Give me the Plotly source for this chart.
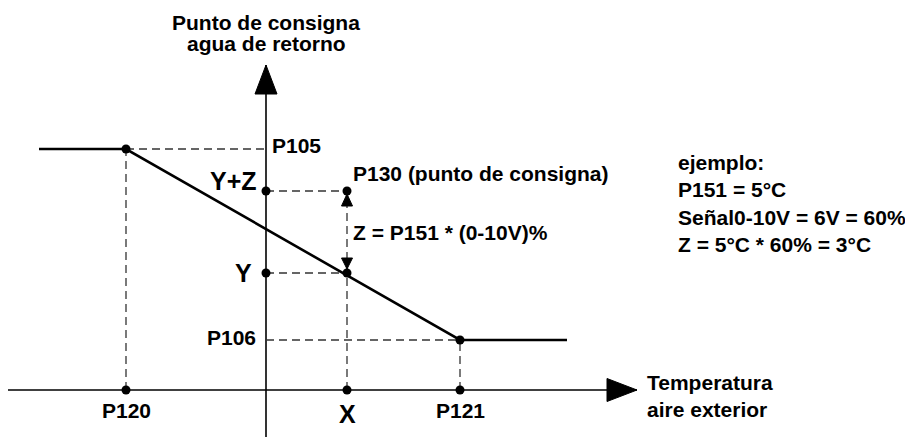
import plotly.graph_objects as go

# diagram values (arbitrary units, origin where the two axes cross)
x_p120 = -7.0
x_x = 4.05
x_p121 = 9.7
x_left_end = -11.35
x_right_end = 15.05

y_p105 = 12.05
y_p106 = 2.5
y_y = 5.85
y_yz = 9.95

x_axis_span = [-12.9, 18.55]
y_axis_span = [-2.35, 16.25]

title_lines = ["Punto de consigna", "agua de retorno"]
xaxis_lines = "Temperatura<br>aire exterior"
example_text = ("ejemplo:<br>P151 = 5°C<br>Señal0-10V = 6V = 60%<br>"
                "Z = 5°C * 60% = 3°C")

U = 20.0  # pixels per unit
# origin position inside the figure (page body has an 8px margin)
OX, OY = 266 - 8, 390 - 8
FONT = "Liberation Sans, Arial, sans-serif"


def tri(tx, ty, direction, length, half):
    l, h = length / U, half / U
    if direction == "up":
        return [tx, tx - h, tx + h, tx], [ty, ty - l, ty - l, ty]
    if direction == "down":
        return [tx, tx - h, tx + h, tx], [ty, ty + l, ty + l, ty]
    return [tx, tx - l, tx - l, tx], [ty, ty - h, ty + h, ty]


fig = go.Figure()

# axes
fig.add_trace(go.Scatter(x=x_axis_span, y=[0, 0], mode="lines",
                         line=dict(color="black", width=1.6)))
fig.add_trace(go.Scatter(x=[0, 0], y=y_axis_span, mode="lines",
                         line=dict(color="black", width=1.6)))

# dashed guide lines
dx = [x_p120, 0, None, x_p120, x_p120, None,
      0, x_x, None, 0, x_x, None, x_x, x_x, None,
      0, x_p121, None, x_p121, x_p121]
dy = [y_p105, y_p105, None, 0, y_p105, None,
      y_yz, y_yz, None, y_y, y_y, None, 0, y_yz, None,
      y_p106, y_p106, None, 0, y_p106]
fig.add_trace(go.Scatter(x=dx, y=dy, mode="lines",
                         line=dict(color="#333333", width=1.3, dash="8px,5px")))

# set point curve
fig.add_trace(go.Scatter(x=[x_left_end, x_p120, x_p121, x_right_end],
                         y=[y_p105, y_p105, y_p106, y_p106], mode="lines",
                         line=dict(color="black", width=2.6)))

# arrow heads
heads = [
    tri(0, y_axis_span[1], "up", 29, 11),
    tri(x_axis_span[1], 0, "right", 30, 11.5),
    tri(x_x, y_yz - 3 / U, "up", 12, 5.5),
    tri(x_x, y_y + 4 / U, "down", 11, 5.5),
]
for hx, hy in heads:
    fig.add_trace(go.Scatter(x=hx, y=hy, mode="lines", fill="toself",
                             fillcolor="black", line=dict(color="black", width=1)))

# dots
fig.add_trace(go.Scatter(
    x=[x_p120, x_p121, 0, x_x, 0, x_x, x_p120, x_x, x_p121],
    y=[y_p105, y_p106, y_y, y_y, y_yz, y_yz, 0, 0, 0],
    mode="markers", marker=dict(color="black", size=9)))

f20 = dict(family=FONT, size=21, color="black", weight="bold")
f24 = dict(family=FONT, size=25, color="black", weight="bold")


def label(x, y, text, font=f20, xanchor="center", yanchor="middle",
          xshift=0, yshift=0, align="left"):
    fig.add_annotation(x=x, y=y, text=text, showarrow=False, font=font,
                       xanchor=xanchor, yanchor=yanchor, xshift=xshift,
                       yshift=yshift, align=align)


label(0, y_axis_span[1], title_lines[0], yshift=43)
label(0, y_axis_span[1], title_lines[1], yshift=22)
label(0, y_p105, "P105", xanchor="left", xshift=4, yshift=4)
label(0, y_yz, "Y+Z", font=f24, xanchor="right", xshift=-7, yshift=10)
label(x_x, y_yz, "P130 (punto de consigna)", xanchor="left", xshift=4, yshift=18)
label(x_x, (y_y + y_yz) / 2, "Z = P151 * (0-10V)%", xanchor="left", xshift=4)
label(0, y_y, "Y", font=f24, xanchor="right", xshift=-12)
label(0, y_p106, "P106", xanchor="right", xshift=-8, yshift=3)
label(x_p120, 0, "P120", yshift=-20)
label(x_x, 0, "X", font=f24, yshift=-24)
label(x_p121, 0, "P121", yshift=-20)
label(x_axis_span[1], 0, xaxis_lines, xanchor="left", xshift=8, yshift=-6)
label(20.5, 9.35, example_text, xanchor="left")

fig.update_layout(
    width=913, height=441,
    margin=dict(l=0, r=0, t=0, b=0),
    paper_bgcolor="white", plot_bgcolor="white",
    showlegend=False,
    xaxis=dict(range=[-OX / U, (913 - OX) / U], visible=False, fixedrange=True),
    yaxis=dict(range=[(OY - 441) / U, OY / U], visible=False, fixedrange=True),
)

fig.write_html("out.html")
